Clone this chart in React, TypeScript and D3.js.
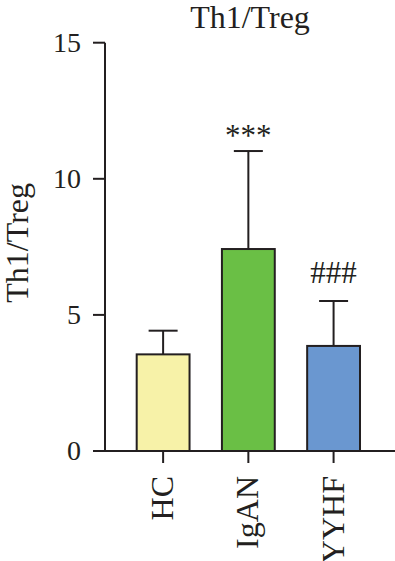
import React from "react";
import * as d3 from "d3";

const categories = ["HC", "IgAN", "YYHF"];
const means = [3.55, 7.42, 3.86];
const errTops = [4.42, 11.02, 5.51];
const annotations = ["", "***", "###"];
const colors = ["#f7f2a8", "#6abf45", "#6a97d0"];
const yTicks = [0, 5, 10, 15];
const title = "Th1/Treg";
const yLabel = "Th1/Treg";

const W = 395;
const H = 561;
const ink = "#231f20";
const font = "'Liberation Serif', 'Times New Roman', serif";

export default function App() {
  const y = d3.scaleLinear().domain([0, 15]).range([451, 42.7]);
  const x = d3.scaleBand<string>().domain(categories).range([120.5, 376.2]).padding(0);
  const bw = x.bandwidth() * 0.62;
  const capW = 29;
  const axisX = 105;
  const annDy = [0, 5, 18];

  return (
    <svg width={W} height={H} style={{ position: "absolute", left: 0, top: 0 }}>
      <rect width={W} height={H} fill="#fff" />
      <text x={250} y={28} fontFamily={font} fontSize={32} fill={ink} textAnchor="middle">
        {title}
      </text>
      <text
        transform={`translate(28,${(y(0) + y(15)) / 2 - 4}) rotate(-90)`}
        fontFamily={font}
        fontSize={32}
        fill={ink}
        textAnchor="middle"
      >
        {yLabel}
      </text>
      {/* bars */}
      {categories.map((c, i) => {
        const cx = (x(c) as number) + x.bandwidth() / 2;
        return (
          <g key={c}>
            <line x1={cx} x2={cx} y1={y(means[i])} y2={y(errTops[i])} stroke={ink} strokeWidth={2} />
            <line x1={cx - capW / 2} x2={cx + capW / 2} y1={y(errTops[i])} y2={y(errTops[i])} stroke={ink} strokeWidth={2} />
            <rect
              x={cx - bw / 2}
              y={y(means[i])}
              width={bw}
              height={y(0) - y(means[i])}
              fill={colors[i]}
              stroke={ink}
              strokeWidth={2}
            />
            {annotations[i] && (
              <text
                x={cx}
                y={y(errTops[i]) - annDy[i]}
                fontFamily={font}
                fontSize={31}
                fill={ink}
                textAnchor="middle"
              >
                {annotations[i]}
              </text>
            )}
            <line x1={cx} x2={cx} y1={y(0)} y2={y(0) + 12} stroke={ink} strokeWidth={2} />
            <text
              transform={`translate(${cx + 10},${y(0) + 25}) rotate(-90)`}
              fontFamily={font}
              fontSize={32}
              fill={ink}
              textAnchor="end"
            >
              {c}
            </text>
          </g>
        );
      })}
      {/* y axis */}
      <line x1={axisX} x2={axisX} y1={y(15)} y2={y(0)} stroke={ink} strokeWidth={2} />
      {yTicks.map((t) => (
        <g key={t}>
          <line x1={axisX - 12} x2={axisX} y1={y(t)} y2={y(t)} stroke={ink} strokeWidth={2} />
          <text
            x={81}
            y={y(t)}
            dy="0.33em"
            fontFamily={font}
            fontSize={28}
            fill={ink}
            textAnchor="end"
          >
            {t}
          </text>
        </g>
      ))}
      {/* x axis */}
      <line x1={axisX - 12} x2={W} y1={y(0)} y2={y(0)} stroke={ink} strokeWidth={2} />
    </svg>
  );
}
